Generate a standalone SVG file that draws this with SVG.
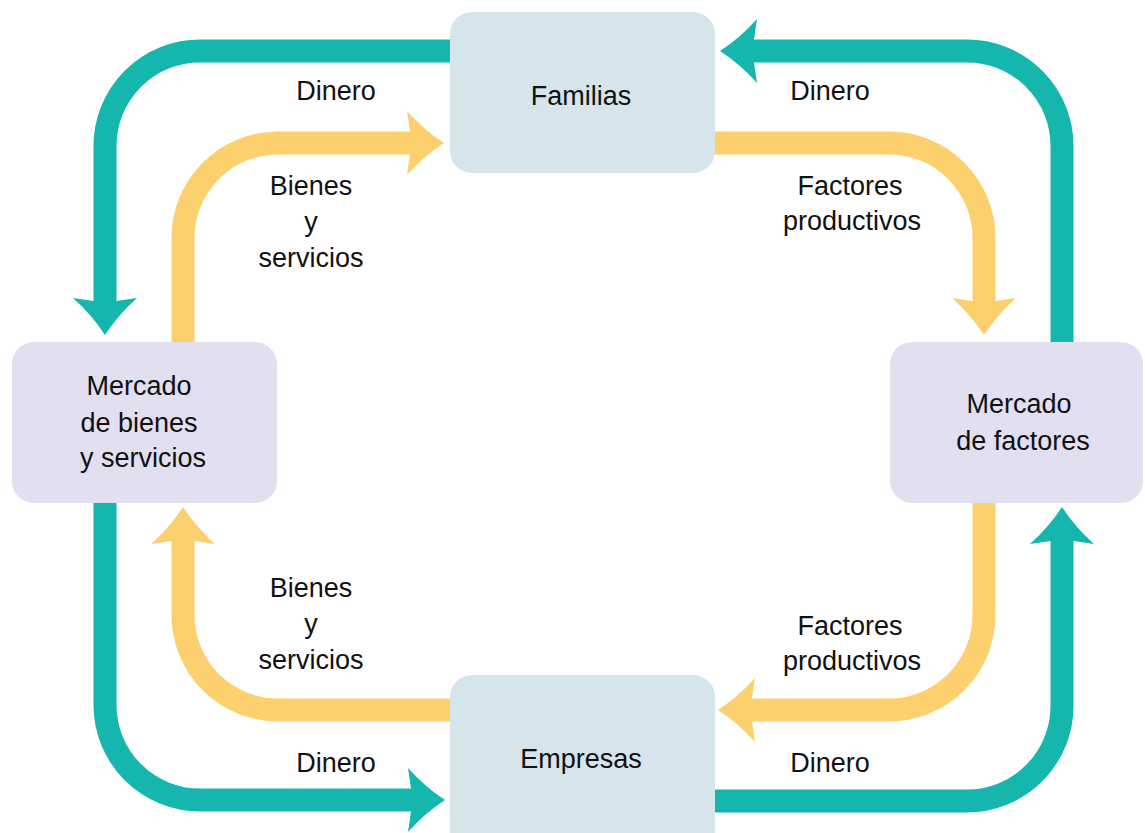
<svg xmlns="http://www.w3.org/2000/svg" width="1145" height="833" viewBox="0 0 1145 833">
<style>
.t{fill:none;stroke:#14b6ae;stroke-width:23}
.y{fill:none;stroke:#fcd06c;stroke-width:23}
.ht{fill:#14b6ae}
.hy{fill:#fcd06c}
.b{fill:#d6e4eb}
.m{fill:#e1dff0}
text{font-family:"Liberation Sans",Arial,sans-serif;font-size:27px;fill:#111;text-anchor:middle}
</style>
<defs>
<path id="head" d="M0,0 Q-20,-13 -37,-32 L-34,-11.5 L-34,11.5 L-37,32 Q-20,13 0,0 Z"/>
</defs>
<rect width="1145" height="833" fill="#fff"/>
<g id="connectors">
<path class="t" d="M452,51 H200 A95,95 0 0 0 105,146 V302"/>
<use href="#head" class="ht" transform="translate(105,335) rotate(90)"/>
<path class="t" d="M1062,344 V146 A95,95 0 0 0 967,51 H753"/>
<use href="#head" class="ht" transform="translate(720,51) rotate(180)"/>
<path class="y" d="M183,344 V238 A95,95 0 0 1 278,143 H411"/>
<use href="#head" class="hy" transform="translate(444,143)"/>
<path class="y" d="M713,143 H889 A95,95 0 0 1 984,238 V302"/>
<use href="#head" class="hy" transform="translate(984,335) rotate(90)"/>
<path class="t" d="M105,501 V705 A95,95 0 0 0 200,800 H412"/>
<use href="#head" class="ht" transform="translate(445,800)"/>
<path class="y" d="M452,710 H278 A95,95 0 0 1 183,615 V540"/>
<use href="#head" class="hy" transform="translate(183,507) rotate(-90)"/>
<path class="y" d="M984,501 V615 A95,95 0 0 1 889,710 H751"/>
<use href="#head" class="hy" transform="translate(718,710) rotate(180)"/>
<path class="t" d="M713,801 H967 A95,95 0 0 0 1062,706 V540"/>
<use href="#head" class="ht" transform="translate(1062,507) rotate(-90)"/>
</g>
<g id="labels">
<text x="336" y="100">Dinero</text>
<text x="830" y="100">Dinero</text>
<text x="311" y="195">Bienes</text>
<text x="311" y="231">y</text>
<text x="311" y="267">servicios</text>
<text x="850" y="195">Factores</text>
<text x="852" y="230">productivos</text>
<text x="311" y="597">Bienes</text>
<text x="311" y="633">y</text>
<text x="311" y="669">servicios</text>
<text x="850" y="635">Factores</text>
<text x="852" y="670">productivos</text>
<text x="336" y="772">Dinero</text>
<text x="830" y="772">Dinero</text>
</g>
<g id="familias">
<rect class="b" x="450" y="12" width="265" height="161" rx="22"/>
<text x="581" y="105">Familias</text>
</g>
<g id="mercado-bienes">
<rect class="m" x="12" y="342" width="265" height="161" rx="22"/>
<text x="139" y="395">Mercado</text>
<text x="139" y="432">de bienes</text>
<text x="143" y="467">y servicios</text>
</g>
<g id="mercado-factores">
<rect class="m" x="890" y="342" width="253" height="161" rx="22"/>
<text x="1019" y="413">Mercado</text>
<text x="1023" y="450">de factores</text>
</g>
<g id="empresas">
<rect class="b" x="450" y="675" width="265" height="180" rx="22"/>
<text x="581" y="768">Empresas</text>
</g>
</svg>
